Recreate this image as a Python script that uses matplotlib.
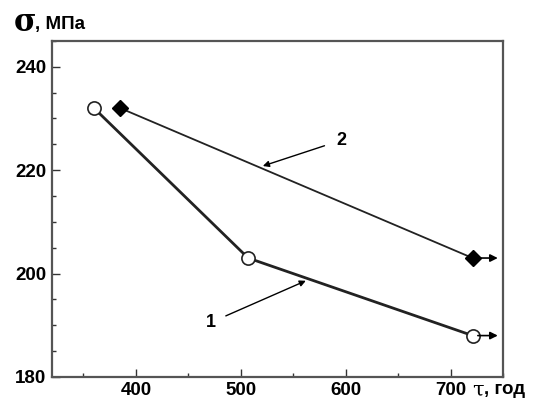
import matplotlib.pyplot as plt
from matplotlib.ticker import MultipleLocator

# series 1: open circles, series 2: filled diamonds
t1 = [360, 507, 721]
s1 = [232, 203, 188]
t2 = [385, 721]
s2 = [232, 203]

x_ticks = [400, 500, 600, 700]
y_ticks = [180, 200, 220, 240]

plt.rcParams['font.family'] = ['Liberation Sans', 'DejaVu Sans']

fig = plt.figure(figsize=(5.34, 4.01), dpi=100)
ax = fig.add_axes([0.0974, 0.06, 0.8446, 0.838])

ax.plot(t1, s1, color="#222222", lw=2.0, marker="o", ms=9.5,
        mfc="white", mec="#222222", mew=1.2, zorder=3)
ax.plot(t2, s2, color="#222222", lw=1.3, marker="D", ms=8,
        mfc="black", mec="black", zorder=3)

# short arrows after the last points
for y in (s1[-1], s2[-1]):
    ax.annotate("", xy=(t1[-1] + 24, y), xytext=(t1[-1] + 5, y),
                arrowprops=dict(arrowstyle="-|>", color="black", lw=1.2,
                                mutation_scale=11, shrinkA=0, shrinkB=0))

# curve labels
ax.annotate("2", xy=(521, 220.8), xytext=(596, 225.8), fontsize=13,
            fontweight="bold", ha="center", va="center",
            arrowprops=dict(arrowstyle="-|>", color="black", lw=1.0,
                            mutation_scale=9, shrinkA=7, shrinkB=0))
ax.annotate("1", xy=(562, 198.6), xytext=(471, 190.5), fontsize=13,
            fontweight="bold", ha="center", va="center",
            arrowprops=dict(arrowstyle="-|>", color="black", lw=1.0,
                            mutation_scale=9, shrinkA=6, shrinkB=0))

ax.set_xlim(320, 750)
ax.set_ylim(180, 245)
ax.set_xticks(x_ticks)
ax.set_yticks(y_ticks)
ax.xaxis.set_minor_locator(MultipleLocator(50))
ax.yaxis.set_minor_locator(MultipleLocator(5))
ax.tick_params(which="both", direction="in", top=False, right=False,
               labelsize=13.5, width=1.0, color="#333333")
ax.tick_params(which="major", length=6, pad=4)
ax.tick_params(which="minor", length=3)
for lab in ax.get_xticklabels() + ax.get_yticklabels():
    lab.set_fontweight("bold")
for sp in ax.spines.values():
    sp.set_linewidth(1.6)
    sp.set_color("#555555")

fig.text(0.025, 0.945, "σ", fontsize=22, fontweight="bold",
         family="DejaVu Serif", va="center")
fig.text(0.066, 0.94, ", МПа", fontsize=13.5, fontweight="bold", va="center")
fig.text(0.884, 0.028, "τ", fontsize=15, family="DejaVu Serif", va="center")
fig.text(0.906, 0.028, ", год", fontsize=13.5, fontweight="bold", va="center")

fig.savefig("out.png", dpi=100)
